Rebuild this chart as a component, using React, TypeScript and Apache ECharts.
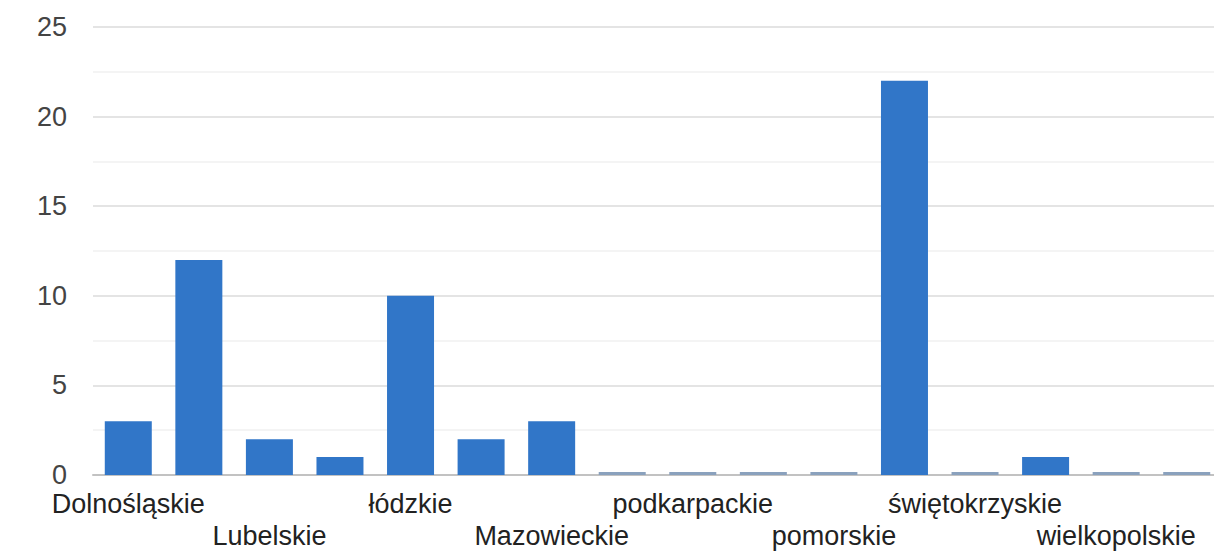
import React, { useEffect, useRef } from "react";
import * as echarts from "echarts";

const categories = [
  "Dolnośląskie",
  "Kujawsko-pomorskie",
  "Lubelskie",
  "Lubuskie",
  "łódzkie",
  "Małopolskie",
  "Mazowieckie",
  "Opolskie",
  "podkarpackie",
  "podlaskie",
  "pomorskie",
  "śląskie",
  "świętokrzyskie",
  "warmińsko-mazurskie",
  "wielkopolskie",
  "zachodniopomorskie",
];
const values = [3, 12, 2, 1, 10, 2, 3, 0, 0, 0, 0, 22, 0, 1, 0, 0];
const yTicks = [0, 5, 10, 15, 20, 25];

export default function App() {
  const ref = useRef<HTMLDivElement>(null);
  useEffect(() => {
    if (!ref.current) return;
    const chart = echarts.init(ref.current, null, { renderer: "svg" });
    chart.setOption({
      animation: false,
      grid: { left: 93, top: 27, width: 1129, height: 449, containLabel: false },
      xAxis: {
        type: "category",
        data: categories,
        axisLine: { show: true, lineStyle: { color: "#c2c2c2", width: 2 } },
        axisTick: { show: false },
        axisLabel: {
          interval: 0,
          margin: 13,
          fontFamily: "Liberation Sans, Arial, sans-serif",
          fontSize: 27,
          lineHeight: 32,
          color: "#222222",
          verticalAlign: "top",
          formatter: (v: string, i: number) => {
            if (i % 2 === 1) return "";
            return (i / 2) % 2 === 1 ? "\n" + v : v;
          },
        },
      },
      yAxis: {
        type: "value",
        min: yTicks[0],
        max: yTicks[yTicks.length - 1],
        interval: 5,
        axisLine: { show: false },
        axisTick: { show: false },
        axisLabel: {
          margin: 26,
          fontFamily: "Liberation Sans, Arial, sans-serif",
          fontSize: 27,
          color: "#444444",
        },
        splitLine: { show: true, lineStyle: { color: "#e4e4e4", width: 2 } },
        minorTick: { show: false, splitNumber: 2 },
        minorSplitLine: { show: true, lineStyle: { color: "#f4f4f4", width: 2 } },
      },
      series: [
        {
          type: "bar",
          barWidth: 47,
          barMinHeight: 3,
          data: values.map((v) => ({
            value: v,
            itemStyle: { color: v === 0 ? "#8aa1bd" : "#3176c8" },
          })),
        },
      ],
    });
    return () => chart.dispose();
  }, []);
  return (
    <div
      style={{
        position: "absolute",
        left: 0,
        top: 0,
        width: 1214,
        height: 552,
        overflow: "hidden",
      }}
    >
      <div ref={ref} style={{ width: 1240, height: 552 }} />
    </div>
  );
}
